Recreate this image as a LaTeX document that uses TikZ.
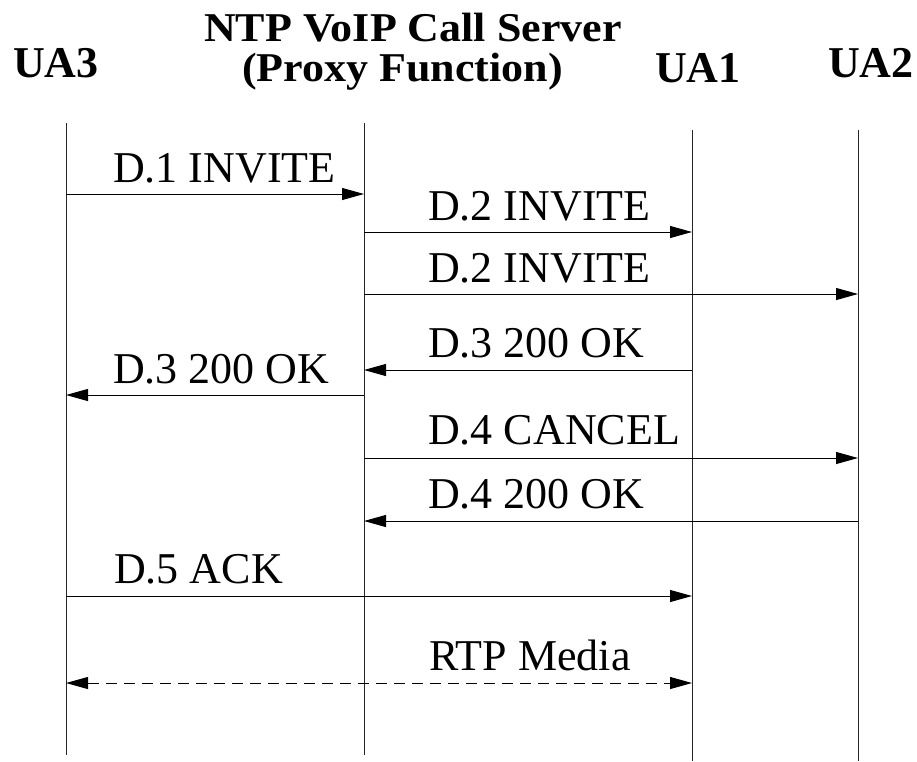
\documentclass[tikz,border=0pt]{standalone}
\usepackage{fontspec}
\setmainfont{Liberation Serif}
\usetikzlibrary{arrows.meta}
\begin{document}
\begin{tikzpicture}[x=1pt,y=-1pt,
  lifeline/.style={line width=1pt,black!85},
  msg/.style={line width=1pt,-{Triangle[length=22pt,width=12pt]}},
  media/.style={line width=1pt,dash pattern=on 11pt off 7pt,{Triangle[length=22pt,width=12pt]}-{Triangle[length=22pt,width=12pt]}},
  lbl/.style={anchor=base west,inner sep=0pt,font=\fontsize{44}{44}\selectfont},
  hdr/.style={anchor=base west,inner sep=0pt,font=\fontsize{44}{44}\selectfont\bfseries}]
\useasboundingbox (0,0) rectangle (917,761);
% headers
\node[hdr] (hua3) at (13,77) {UA3};
\node[hdr] (hntp) at (204,41) {\scalebox{1}[0.93]{NTP VoIP Call Server}};
\node[hdr] (hpf) at (242,81) {\scalebox{1}[0.93]{(Proxy Function)}};
\node[hdr] (hua1) at (655,82) {UA1};
\node[hdr] (hua2) at (828,77) {UA2};
% lifelines
\coordinate (t3) at (66,123); \coordinate (b3) at (66,755);
\coordinate (tp) at (364,123); \coordinate (bp) at (364,755);
\coordinate (t1) at (692,130); \coordinate (b1) at (692,761);
\coordinate (t2) at (858,130); \coordinate (b2) at (858,761);
\draw[lifeline] (t3) -- (b3);
\draw[lifeline] (tp) -- (bp);
\draw[lifeline] (t1) -- (b1);
\draw[lifeline] (t2) -- (b2);
% message endpoints
\coordinate (m1a) at (66,194);  \coordinate (m1b) at (364,194);
\coordinate (m2a) at (364,232); \coordinate (m2b) at (692,232);
\coordinate (m3a) at (364,294); \coordinate (m3b) at (858,294);
\coordinate (m4a) at (692,370); \coordinate (m4b) at (364,370);
\coordinate (m5a) at (364,395); \coordinate (m5b) at (66,395);
\coordinate (m6a) at (364,458); \coordinate (m6b) at (858,458);
\coordinate (m7a) at (858,521); \coordinate (m7b) at (364,521);
\coordinate (m8a) at (66,596);  \coordinate (m8b) at (692,596);
\coordinate (m9a) at (66,683);  \coordinate (m9b) at (692,683);
\draw[msg] (m1a) -- (m1b);
\draw[msg] (m2a) -- (m2b);
\draw[msg] (m3a) -- (m3b);
\draw[msg] (m4a) -- (m4b);
\draw[msg] (m5a) -- (m5b);
\draw[msg] (m6a) -- (m6b);
\draw[msg] (m7a) -- (m7b);
\draw[msg] (m8a) -- (m8b);
\draw[media] (m9a) -- (m9b);
% labels
\node[lbl] (l1) at (113,182) {D.1 INVITE};
\node[lbl] (l2) at (428,220) {D.2 INVITE};
\node[lbl] (l3) at (428,282) {D.2 INVITE};
\node[lbl] (l4) at (428,357) {D.3 200 OK};
\node[lbl] (l5) at (113,383) {D.3 200 OK};
\node[lbl] (l6) at (428,444) {D.4 CANCEL};
\node[lbl] (l7) at (428,508) {D.4 200 OK};
\node[lbl] (l8) at (114,583) {D.5 ACK};
\node[lbl] (l9) at (429,670) {RTP Media};
\end{tikzpicture}
\end{document}
